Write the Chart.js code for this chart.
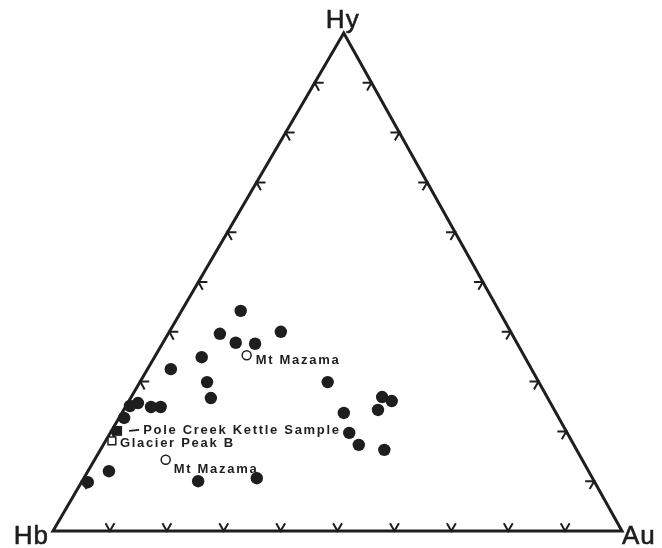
<!DOCTYPE html>
<html><head><meta charset="utf-8">
<script src="https://cdn.jsdelivr.net/npm/chart.js@4/dist/chart.umd.min.js"></script>
<style>html,body{margin:0;padding:0;background:#fff}#wrap{width:662px;height:548px;position:relative}</style>
</head><body><div id="wrap"><canvas id="c"></canvas></div>
<script>
// ---- DATA (ternary percentages; Hb = 100 - Hy - Au) ----
const vertexLabels = ['Hb', 'Au', 'Hy'];
const tickValues = [10, 20, 30, 40, 50, 60, 70, 80, 90];

const sampleHy = [44.2, 39.6, 40.0, 37.8, 37.6, 34.9, 32.5, 29.9, 26.7, 25.7, 25.1, 24.9, 24.9, 22.7,
                  29.9, 26.9, 26.1, 24.3, 23.7, 19.7, 17.3, 16.3, 12.0, 9.8, 10.0, 10.6];
const sampleAu = [10.4, 9.1, 19.6, 12.8, 16.3, 8.3, 4.1, 11.8, 14.1, 1.8, 0.7, 4.5, 6.2, 0.9,
                  33.0, 44.1, 46.2, 44.7, 39.0, 42.0, 44.9, 49.9, 3.7, 1.1, 20.4, 30.4];

const mazamaHy = [35.3, 14.3];
const mazamaAu = [16.0, 12.5];
const mazamaLabels = ['Mt Mazama', 'Mt Mazama'];

const poleCreekHy = [20.1];
const poleCreekAu = [1.0];
const poleCreekLabels = ['Pole Creek Kettle Sample'];

const glacierHy = [18.1];
const glacierAu = [1.1];
const glacierLabels = ['Glacier Peak B'];

// ---- STYLE / LAYOUT ----
const APEX_X = 51.1;          // horizontal position of Hy apex along the base (% of base)
const INK = '#1e1e1e';
const TICK_LEN = 9;
const LABEL_FONT = 'bold 13px "Liberation Sans", Arial, sans-serif';
const VERTEX_FONT = '26px "Liberation Sans", Arial, sans-serif';

function toXY(hy, au) { return { x: au + hy * APEX_X / 100, y: hy }; }
function pts(hyArr, auArr) { return hyArr.map((h, i) => toXY(h, auArr[i])); }

const ternaryPlugin = {
  id: 'ternary',
  beforeDatasetsDraw(chart) {
    const { ctx, scales: { x, y } } = chart;
    const px = (hy, au) => { const p = toXY(hy, au); return [x.getPixelForValue(p.x), y.getPixelForValue(p.y)]; };
    const Hb = px(0, 0), Au = px(0, 100), Hy = px(100, 0);
    const unit = (a, b) => { const dx = b[0] - a[0], dy = b[1] - a[1], l = Math.hypot(dx, dy); return [dx / l, dy / l]; };
    ctx.save();
    ctx.strokeStyle = INK; ctx.lineJoin = 'miter'; ctx.lineCap = 'butt';
    ctx.lineWidth = 3;
    ctx.beginPath(); ctx.moveTo(...Hb); ctx.lineTo(...Au); ctx.lineTo(...Hy); ctx.closePath(); ctx.stroke();
    ctx.lineWidth = 2;
    const edges = [
      { at: t => px(0, t), dirs: [unit(Hb, Hy), unit(Au, Hy)] },          // base
      { at: t => px(t, 0), dirs: [unit(Hb, Au), unit(Hy, Au)] },          // left side
      { at: t => px(t, 100 - t), dirs: [unit(Au, Hb), unit(Hy, Hb)] }     // right side
    ];
    edges.forEach(e => tickValues.forEach(t => {
      const p = e.at(t);
      ctx.beginPath();
      ctx.moveTo(p[0] + e.dirs[0][0] * TICK_LEN, p[1] + e.dirs[0][1] * TICK_LEN);
      ctx.lineTo(p[0], p[1]);
      ctx.lineTo(p[0] + e.dirs[1][0] * TICK_LEN, p[1] + e.dirs[1][1] * TICK_LEN);
      ctx.stroke();
    }));
    // vertex labels
    ctx.fillStyle = INK; ctx.strokeStyle = INK; ctx.font = VERTEX_FONT;
    ctx.letterSpacing = '1px';
    ctx.lineWidth = 0.6;
    ctx.textBaseline = 'alphabetic';
    const vl = [[vertexLabels[0], 'right', Hb[0] - 4, Hb[1] + 13],
                [vertexLabels[1], 'left', Au[0] + 0, Au[1] + 13],
                [vertexLabels[2], 'center', Hy[0] - 1, Hy[1] - 5]];
    vl.forEach(([s, al, tx, ty]) => { ctx.textAlign = al; ctx.fillText(s, tx, ty); ctx.strokeText(s, tx, ty); });
    ctx.restore();
  },
  afterDatasetsDraw(chart) {
    const { ctx, scales: { x, y } } = chart;
    const px = (hy, au) => { const p = toXY(hy, au); return [x.getPixelForValue(p.x), y.getPixelForValue(p.y)]; };
    ctx.save();
    ctx.fillStyle = INK; ctx.strokeStyle = INK;
    ctx.font = LABEL_FONT; ctx.letterSpacing = '1.7px';
    ctx.textAlign = 'left'; ctx.textBaseline = 'middle';
    const offsets = { mazama: [[9, 5], [8, 10]], pole: [26, 0], glacier: [8, 3] };
    mazamaLabels.forEach((s, i) => {
      const p = px(mazamaHy[i], mazamaAu[i]);
      ctx.fillText(s, p[0] + offsets.mazama[i][0], p[1] + offsets.mazama[i][1]);
    });
    poleCreekLabels.forEach((s, i) => {
      const p = px(poleCreekHy[i], poleCreekAu[i]);
      ctx.lineWidth = 1.8;
      ctx.beginPath(); ctx.moveTo(p[0] + 12, p[1]); ctx.lineTo(p[0] + 22, p[1] - 1); ctx.stroke();
      ctx.fillText(s, p[0] + offsets.pole[0], p[1] + offsets.pole[1]);
    });
    glacierLabels.forEach((s, i) => {
      const p = px(glacierHy[i], glacierAu[i]);
      ctx.fillText(s, p[0] + offsets.glacier[0], p[1] + offsets.glacier[1]);
    });
    ctx.restore();
  }
};

new Chart(document.getElementById('c'), {
  type: 'scatter',
  data: {
    datasets: [
      { label: 'Samples', data: pts(sampleHy, sampleAu), pointRadius: 6.2, pointBackgroundColor: INK, pointBorderColor: INK, pointBorderWidth: 0 },
      { label: 'Mt Mazama', data: pts(mazamaHy, mazamaAu), pointRadius: 4.5, pointBackgroundColor: '#fff', pointBorderColor: INK, pointBorderWidth: 1.5 },
      { label: 'Pole Creek Kettle Sample', data: pts(poleCreekHy, poleCreekAu), pointStyle: 'rect', pointRadius: 7, pointBackgroundColor: INK, pointBorderColor: INK, pointBorderWidth: 0 },
      { label: 'Glacier Peak B', data: pts(glacierHy, glacierAu), pointStyle: 'rect', pointRadius: 5.5, pointBackgroundColor: '#fff', pointBorderColor: INK, pointBorderWidth: 1.5 }
    ]
  },
  options: {
    responsive: true, maintainAspectRatio: false, animation: false,
    layout: { padding: { left: 53, right: 40, top: 33, bottom: 17 } },
    clip: false,
    plugins: { legend: { display: false }, tooltip: { enabled: false } },
    scales: {
      x: { type: 'linear', min: 0, max: 100, display: false },
      y: { type: 'linear', min: 0, max: 100, display: false }
    }
  },
  plugins: [ternaryPlugin]
});
</script></body></html>
